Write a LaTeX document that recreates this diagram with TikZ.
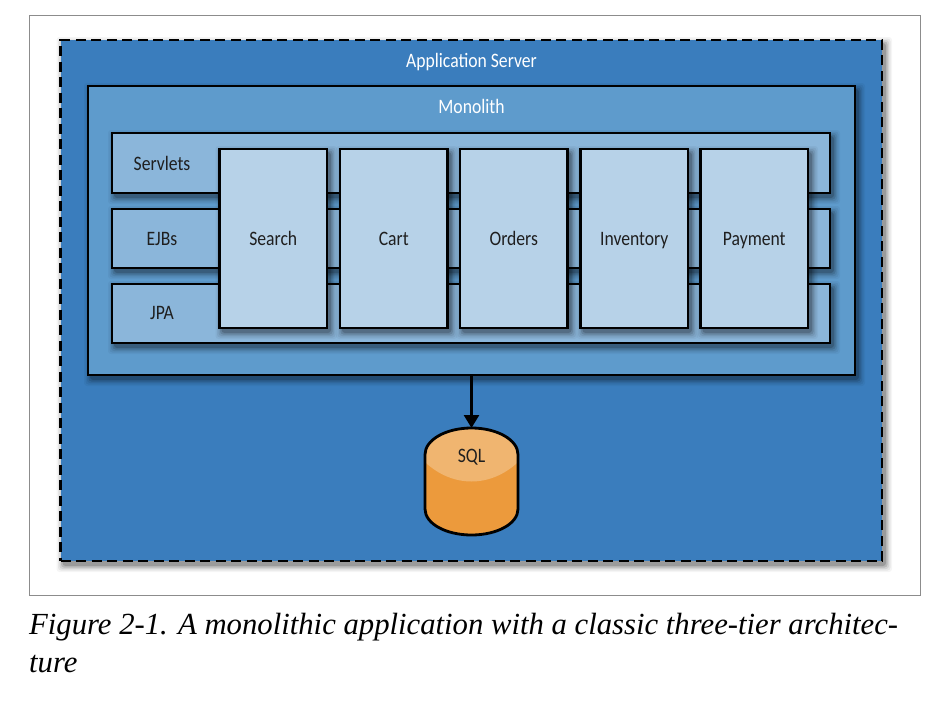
\documentclass[tikz,border=0pt]{standalone}
\usepackage{fontspec}
\setmainfont{Liberation Serif}
\newfontfamily\labelfont[FakeStretch=0.86]{Carlito}
\usetikzlibrary{arrows.meta}
\definecolor{appblue}{HTML}{3A7DBD}
\definecolor{monoblue}{HTML}{5E9BCC}
\definecolor{tierblue}{HTML}{8BB6DA}
\definecolor{modblue}{HTML}{B7D2E8}
\definecolor{dborange}{HTML}{EC9A3C}
\definecolor{dblight}{HTML}{F0B570}
\definecolor{framegray}{HTML}{8C8C8C}
\newcommand\softshadow[4]{%
  \foreach \e/\o in {7/.04,5.5/.06,4/.08,2.5/.12,1/.16}{%
    \fill[black,opacity=\o,rounded corners=3pt]
      ({#1+3-\e},{#2+4-\e}) rectangle ({#3+3+\e},{#4+4+\e});}}
\newcommand\bx[7]{%
  \softshadow{#3}{#4}{#5}{#6}%
  \node[#2,minimum width={(#5-#3)*1pt},minimum height={(#6-#4)*1pt}] (#1)
    at ({(#3+#5)/2},{(#4+#6)/2}) {#7};}
\tikzset{
  labeltext/.style={font=\labelfont\fontsize{20.5}{24}\selectfont,text height=17pt,text depth=4pt,inner sep=0pt},
  boxbase/.style={draw=black,line width=2.6pt,outer sep=0pt,rectangle,labeltext,text=black!88},
  appbox/.style={boxbase,fill=appblue,dash pattern=on 10pt off 5.5pt},
  monobox/.style={boxbase,fill=monoblue},
  tierbox/.style={boxbase,fill=tierblue},
  modbox/.style={boxbase,fill=modblue},
  whitelabel/.style={labeltext,text=white},
  tierlabel/.style={labeltext,text=black!88},
  dbline/.style={draw=black,line width=2.8pt},
  flow/.style={draw=black,line width=2.6pt,-{Triangle[width=15pt,length=13pt]}},
  caption/.style={font=\itshape\fontsize{30.7}{36}\selectfont,text=black,inner sep=0pt,anchor=base west},
}
\begin{document}
\begin{tikzpicture}[x=1pt,y=-1pt]
\useasboundingbox (0,0) rectangle (940,704);
\fill[white] (0,0) rectangle (940,704);
\node[draw=framegray,line width=1pt,minimum width=891pt,minimum height=580pt,inner sep=0pt,outer sep=0pt] (frame) at (474.5,305) {};
\bx{app}{appbox}{60.5}{40}{882}{561}{}
\bx{mono}{monobox}{88}{86}{855}{375}{}
\bx{servlets}{tierbox}{112}{133}{830}{193}{}
\bx{ejbs}{tierbox}{112}{209}{830}{268}{}
\bx{jpa}{tierbox}{112}{284}{830}{343}{}
\bx{search}{modbox}{219.5}{149}{327}{328}{Search}
\bx{cart}{modbox}{340}{149}{447.5}{328}{Cart}
\bx{orders}{modbox}{460}{149}{567.5}{328}{Orders}
\bx{inventory}{modbox}{580.5}{149}{688}{328}{Inventory}
\bx{payment}{modbox}{700.5}{149}{808}{328}{Payment}
\node[whitelabel] (applabel) at (471.5,61) {Application Server};
\node[whitelabel] (monolabel) at (471.5,107) {Monolith};
\node[tierlabel] (servletslabel) at (162,164) {Servlets};
\node[tierlabel] (ejbslabel) at (162,239) {EJBs};
\node[tierlabel] (jpalabel) at (162,313) {JPA};
% database
\node[inner sep=0pt,outer sep=0pt,minimum width=93pt,minimum height=107pt] (db) at (471.5,481.5) {};
\fill[dborange] (425,454.5) .. controls (425,439.9) and (445.8,428) .. (471.5,428)
  .. controls (497.2,428) and (518,439.9) .. (518,454.5) -- (518,509)
  .. controls (518,523.6) and (497.2,535) .. (471.5,535)
  .. controls (445.8,535) and (425,523.6) .. (425,509) -- cycle;
\fill[dblight] (425,454.5) .. controls (425,439.9) and (445.8,428) .. (471.5,428)
  .. controls (497.2,428) and (518,439.9) .. (518,454.5) -- (517,463)
  .. controls (505,474) and (489,481.5) .. (471.5,481.5)
  .. controls (454,481.5) and (438,474) .. (426,463) -- cycle;
\draw[dbline] (425,454.5) .. controls (425,439.9) and (445.8,428) .. (471.5,428)
  .. controls (497.2,428) and (518,439.9) .. (518,454.5) -- (518,509)
  .. controls (518,523.6) and (497.2,535) .. (471.5,535)
  .. controls (445.8,535) and (425,523.6) .. (425,509) -- cycle;
\node[tierlabel] (sql) at (471.5,456) {SQL};
\draw[flow] (mono.south) -- (db.north);
\node[caption] (cap1) at (29,634) {Figure 2-1. A monolithic application with a classic three-tier architec-};
\node[caption] (cap2) at (29,672) {ture};
\end{tikzpicture}
\end{document}
